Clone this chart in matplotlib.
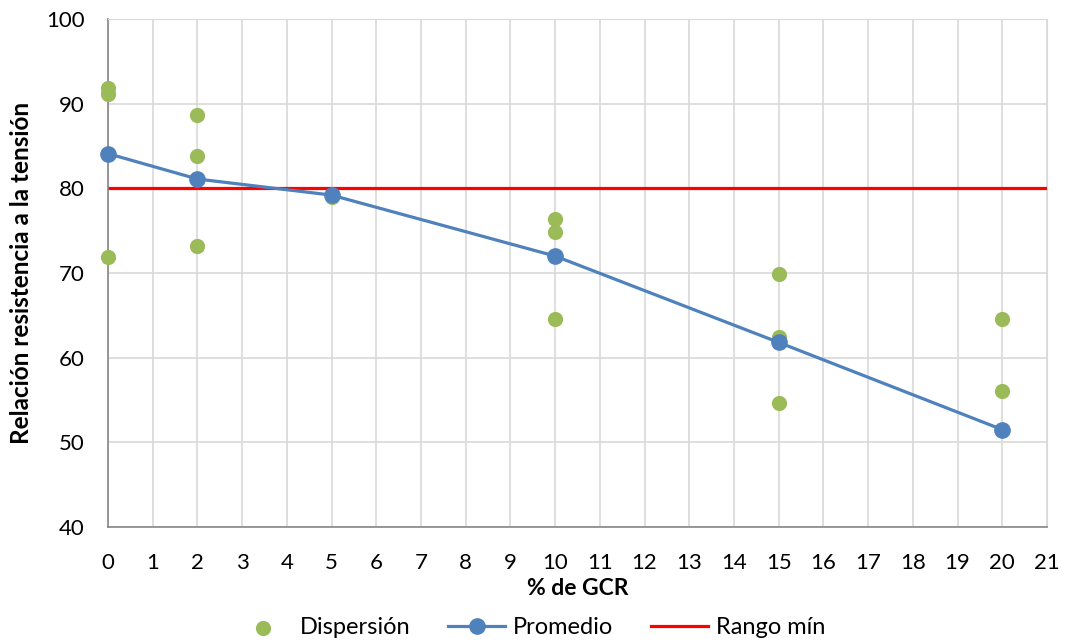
import matplotlib.pyplot as plt

plt.rcParams['font.family'] = ['Lato', 'DejaVu Sans']

# datos de dispersión por % de GCR
disp_x = [0, 0, 0, 2, 2, 2, 5, 10, 10, 10, 15, 15, 15, 20, 20]
disp_y = [91.8, 91.2, 71.9, 88.7, 83.8, 73.2, 79.0, 76.4, 74.9, 64.6, 69.9, 62.5, 54.6, 64.6, 56.1]

# promedio
prom_x = [0, 2, 5, 10, 15, 20]
prom_y = [84.1, 81.1, 79.2, 72.0, 61.8, 51.5]

rango_min = 80

fig = plt.figure(figsize=(10.71, 6.44), dpi=100)
ax = fig.add_axes([108 / 1071, 1 - 527 / 644, (1047 - 108) / 1071, (527 - 19) / 644])

ax.scatter(disp_x, disp_y, s=120, color='#9BBB59', zorder=3, label='Dispersión',
           linewidths=0, clip_on=False)
ax.plot(prom_x, prom_y, color='#4F81BD', lw=2.3, marker='o', ms=11, zorder=4,
        label='Promedio', clip_on=False)
ax.axhline(rango_min, color='#FF0000', lw=2.3, zorder=2, label='Rango mín')

ax.set_xlim(0, 21)
ax.set_ylim(40, 100)
ax.set_xticks(range(0, 22))
ax.set_yticks(range(40, 101, 10))
ax.grid(True, color='#D9D9D9', lw=1.2, zorder=0)
ax.set_axisbelow(True)

for s in ['top', 'right']:
    ax.spines[s].set_color('#D9D9D9')
for s in ['left', 'bottom']:
    ax.spines[s].set_color('#868686')
    ax.spines[s].set_linewidth(1.2)
ax.tick_params(length=0, labelsize=16)
ax.tick_params(axis='y', pad=17)
ax.tick_params(axis='x', pad=19)

ax.set_xlabel('% de GCR', fontsize=16.5, fontweight='bold', labelpad=3)
ax.set_ylabel('Relación resistencia a la tensión', fontsize=17.5, fontweight='bold', labelpad=9)

fig.legend(loc='lower center', ncol=3, frameon=False, fontsize=17,
           bbox_to_anchor=(0.495, -0.024), handlelength=2.4, columnspacing=1.6,
           handletextpad=0.35)

fig.savefig('out.png', dpi=100)
